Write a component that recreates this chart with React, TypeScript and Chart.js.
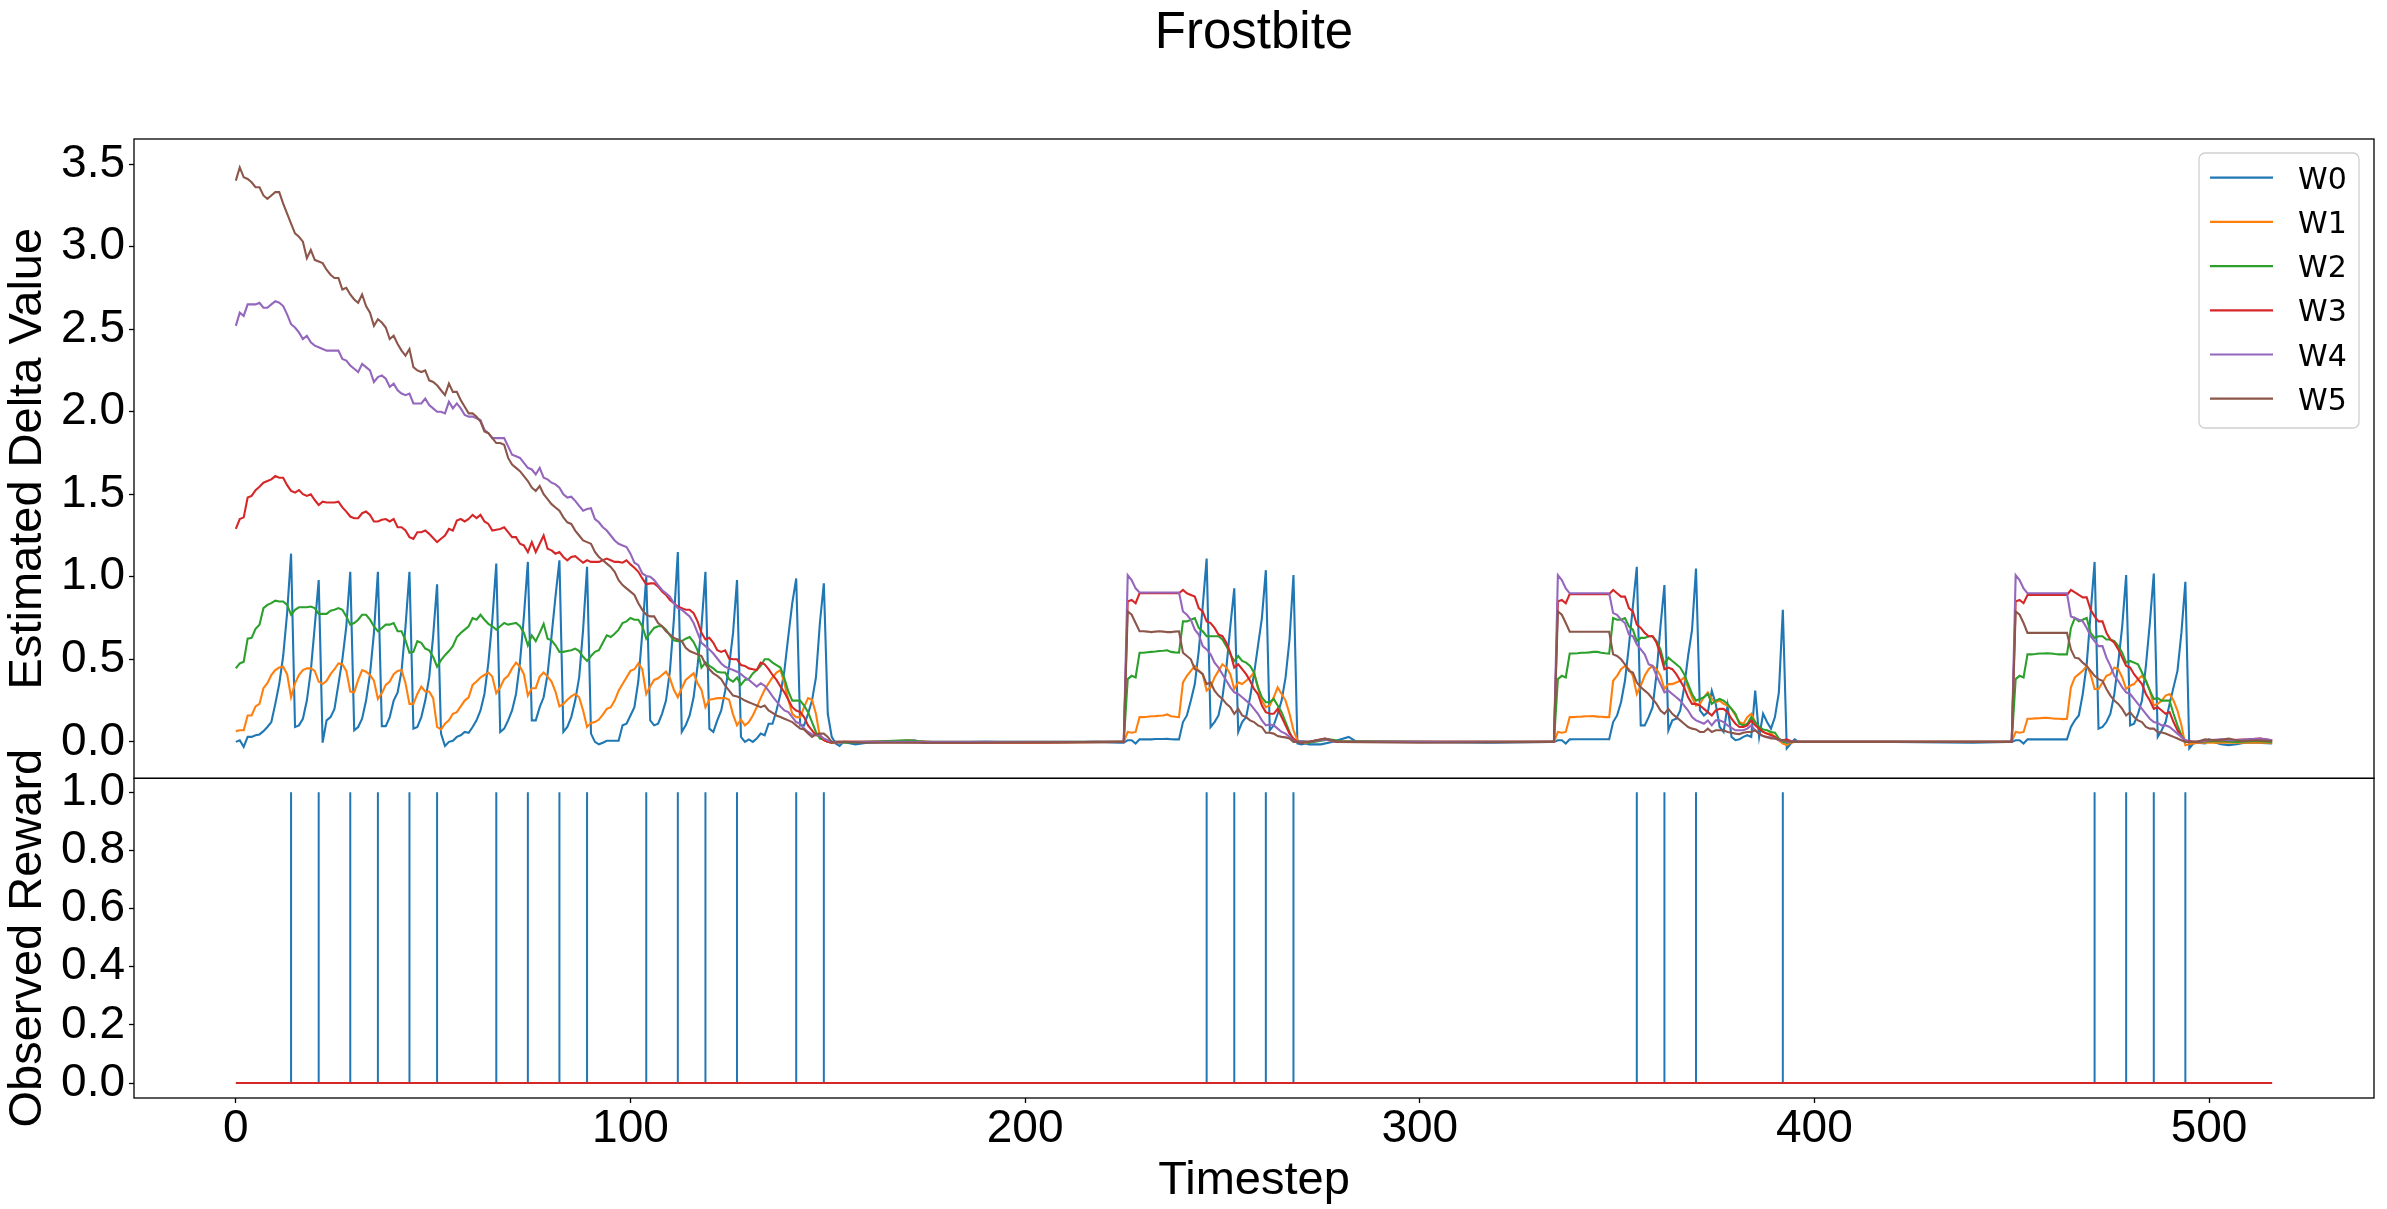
import React, { useEffect, useRef } from 'react';
import { Chart, registerables } from 'chart.js';

Chart.register(...registerables);

// ---- labels ----
const TITLE = 'Frostbite';
const X_LABEL = 'Timestep';
const TOP_Y_LABEL = 'Estimated Delta Value';
const BOTTOM_Y_LABEL = 'Observed Reward';
const SERIES_NAMES = ['W0', 'W1', 'W2', 'W3', 'W4', 'W5'];
const SERIES_COLORS = ['#1f77b4', '#ff7f0e', '#2ca02c', '#d62728', '#9467bd', '#8c564b'];

// first timestep of each dense block of values
const EARLY_START = 0;
const PHASE_STARTS = [225, 334, 450];

// ---- W0 ----
const W0_EARLY = [
  0.0, 0.01, -0.03, 0.03, 0.03, 0.04, 0.045, 0.065, 0.09, 0.12,
  0.23, 0.35, 0.52, 0.78, 1.14, 0.09, 0.10, 0.14, 0.25, 0.43,
  0.70, 0.98, -0.005, 0.13, 0.15, 0.20, 0.35, 0.50, 0.70, 1.03,
  0.07, 0.09, 0.14, 0.25, 0.41, 0.66, 1.03, 0.095, 0.095, 0.15,
  0.25, 0.30, 0.43, 0.70, 1.03, 0.08, 0.09, 0.15, 0.25, 0.39,
  0.64, 0.955, 0.05, -0.025, 0.0, 0.007, 0.03, 0.04, 0.06, 0.055,
  0.09, 0.13, 0.19, 0.29, 0.48, 0.74, 1.08, 0.06, 0.08, 0.13,
  0.19, 0.29, 0.48, 0.76, 1.09, 0.13, 0.13, 0.21, 0.27, 0.41,
  0.64, 0.88, 1.10, 0.06, 0.09, 0.15, 0.25, 0.39, 0.68, 1.06,
  0.05, 0.0, -0.015, -0.005, 0.007, 0.007, 0.007, 0.007, 0.10, 0.11,
  0.16, 0.21, 0.37, 0.66, 1.0, 0.13, 0.10, 0.11, 0.17, 0.25,
  0.43, 0.74, 1.15, 0.06, 0.10, 0.16, 0.27, 0.46, 0.70, 1.03,
  0.08, 0.06, 0.13, 0.19, 0.31, 0.46, 0.66, 0.98, 0.03, 0.0,
  0.015, 0.0, 0.02, 0.05, 0.04, 0.11, 0.11, 0.19, 0.29, 0.43,
  0.64, 0.84, 0.99, 0.10, 0.10, 0.17, 0.25, 0.39, 0.72, 0.96,
  0.17, 0.03, -0.01, -0.025, 0.0,
];
const W0_P1 = [
  -0.005, 0.01, 0.01, -0.01, 0.015, 0.015, 0.015, 0.015, 0.017, 0.017, 0.017, 0.018, 0.016, 0.015, 0.015,
  0.12, 0.16, 0.25, 0.35, 0.55, 0.82, 1.11, 0.09, 0.12, 0.16, 0.27, 0.45, 0.70, 0.93,
  0.06, 0.12, 0.15, 0.27, 0.41, 0.58, 0.75, 1.04, 0.07, 0.10, 0.17, 0.25, 0.39, 0.62, 1.01,
  -0.01, -0.015, -0.01, -0.015,
];
const W0_P2 = [
  0.0, 0.01, 0.01, -0.01, 0.015, 0.016, 0.016, 0.016, 0.016, 0.016, 0.016, 0.016, 0.016, 0.016, 0.016,
  0.12, 0.16, 0.24, 0.37, 0.58, 0.82, 1.06, 0.10, 0.10, 0.15, 0.21, 0.41, 0.70, 0.95,
  0.07, 0.13, 0.14, 0.19, 0.33, 0.52, 0.68, 1.05, 0.19, 0.16, 0.18, 0.31, 0.23, 0.09, 0.06, 0.22,
  0.03, 0.01, 0.015, 0.03, 0.04, 0.03, 0.31, 0.03, 0.17, 0.12, 0.08, 0.15, 0.30, 0.80,
  -0.04, -0.01, 0.015, 0.0,
];
const W0_P3 = [
  0.0, 0.01, 0.01, -0.01, 0.015, 0.015, 0.015, 0.015, 0.015, 0.015, 0.015, 0.015, 0.015, 0.015, 0.015,
  0.09, 0.13, 0.16, 0.29, 0.47, 0.78, 1.09, 0.08, 0.09, 0.12, 0.17, 0.29, 0.48, 0.70, 1.01,
  0.10, 0.11, 0.17, 0.25, 0.46, 0.72, 1.02, 0.03, 0.07, 0.12, 0.23, 0.33, 0.43, 0.66, 0.97,
  -0.04, -0.01, -0.005,
];
const W0_QUIET = [
  [157, -0.015], [160, -0.005], [165, 0.0], [172, 0.01], [174, -0.005], [190, 0.0], [205, -0.005],
  [218, 0.0], [224, -0.005], [275, -0.015], [278, 0.0], [282, 0.03], [284, 0.0], [300, 0.0],
  [318, -0.005], [333, 0.0], [400, 0.0], [420, 0.0], [440, -0.005], [449, 0.0], [499, -0.01],
  [500, 0.015], [501, 0.0], [503, -0.015], [505, -0.02], [507, -0.015], [509, -0.005], [512, -0.005],
  [516, -0.01],
];

// ---- W1 ----
const W1_EARLY = [
  0.065, 0.07, 0.07, 0.16, 0.16, 0.215, 0.23, 0.325, 0.355, 0.405,
  0.435, 0.45, 0.455, 0.41, 0.27, 0.355, 0.405, 0.435, 0.445, 0.445,
  0.43, 0.365, 0.35, 0.37, 0.41, 0.44, 0.475, 0.47, 0.43, 0.305,
  0.30, 0.375, 0.435, 0.425, 0.405, 0.37, 0.26, 0.295, 0.345, 0.365,
  0.41, 0.43, 0.435, 0.355, 0.23, 0.23, 0.29, 0.335, 0.305, 0.305,
  0.265, 0.09, 0.075, 0.11, 0.13, 0.17, 0.18, 0.215, 0.25, 0.27,
  0.345, 0.365, 0.39, 0.405, 0.42, 0.395, 0.295, 0.33, 0.38, 0.40,
  0.445, 0.48, 0.455, 0.41, 0.28, 0.325, 0.325, 0.395, 0.42, 0.395,
  0.365, 0.305, 0.215, 0.23, 0.255, 0.275, 0.29, 0.27, 0.19, 0.09,
  0.115, 0.12, 0.135, 0.165, 0.20, 0.21, 0.25, 0.31, 0.35, 0.39,
  0.43, 0.44, 0.475, 0.44, 0.29, 0.335, 0.375, 0.385, 0.405, 0.425,
  0.385, 0.315, 0.27, 0.325, 0.375, 0.395, 0.415, 0.355, 0.315, 0.21,
  0.255, 0.26, 0.265, 0.265, 0.265, 0.255, 0.165, 0.10, 0.135, 0.10,
  0.12, 0.16, 0.21, 0.265, 0.315, 0.355, 0.39, 0.42, 0.435, 0.355,
  0.255, 0.17, 0.15, 0.15, 0.21, 0.265, 0.255, 0.17, 0.03, 0.01,
  0.0, -0.005, 0.0, -0.005, 0.0,
];
const W1_P1 = [
  0.0, 0.06, 0.055, 0.06, 0.15, 0.15, 0.152, 0.155, 0.156, 0.158, 0.16, 0.166, 0.155, 0.152, 0.15,
  0.36, 0.40, 0.43, 0.46, 0.43, 0.41, 0.31, 0.33, 0.39, 0.43, 0.47, 0.45, 0.41, 0.32,
  0.36, 0.35, 0.37, 0.39, 0.42, 0.33, 0.25, 0.21, 0.22, 0.27, 0.33, 0.29, 0.25, 0.17, 0.07,
  0.01, 0.0, -0.005, 0.0,
];
const W1_P2 = [
  0.0, 0.06, 0.055, 0.06, 0.15, 0.15, 0.152, 0.153, 0.155, 0.155, 0.156, 0.153, 0.152, 0.15, 0.15,
  0.37, 0.40, 0.44, 0.46, 0.44, 0.40, 0.29, 0.34, 0.40, 0.44, 0.46, 0.44, 0.40, 0.32,
  0.35, 0.35, 0.36, 0.37, 0.39, 0.33, 0.27, 0.22, 0.23, 0.27, 0.30, 0.26, 0.24, 0.25, 0.23, 0.22,
  0.20, 0.16, 0.12, 0.11, 0.15, 0.17, 0.12, 0.08, 0.06, 0.05, 0.05, 0.03, 0.01, -0.01,
  -0.02, -0.005, 0.0, 0.0,
];
const W1_P3 = [
  0.0, 0.06, 0.055, 0.06, 0.14, 0.14, 0.142, 0.143, 0.145, 0.145, 0.143, 0.14, 0.14, 0.138, 0.14,
  0.33, 0.39, 0.41, 0.43, 0.46, 0.41, 0.32, 0.32, 0.36, 0.40, 0.41, 0.45, 0.44, 0.39, 0.32,
  0.34, 0.35, 0.38, 0.40, 0.37, 0.31, 0.22, 0.23, 0.25, 0.28, 0.29, 0.25, 0.19, 0.10, -0.02,
  -0.015, -0.01, -0.005,
];
const W1_QUIET = [
  [160, 0.0], [171, 0.008], [176, 0.0], [200, -0.005], [224, 0.0], [276, 0.015], [279, 0.0],
  [300, 0.0], [333, 0.0], [400, 0.0], [449, 0.0], [502, -0.005], [508, -0.005], [516, -0.005],
];

// ---- W2 ----
const W2_EARLY = [
  0.445, 0.475, 0.485, 0.625, 0.63, 0.685, 0.71, 0.81, 0.83, 0.84,
  0.855, 0.85, 0.85, 0.83, 0.77, 0.80, 0.815, 0.815, 0.815, 0.82,
  0.81, 0.775, 0.775, 0.775, 0.795, 0.80, 0.81, 0.80, 0.76, 0.71,
  0.72, 0.74, 0.77, 0.77, 0.74, 0.70, 0.67, 0.69, 0.71, 0.71,
  0.72, 0.67, 0.67, 0.615, 0.54, 0.545, 0.61, 0.60, 0.565, 0.555,
  0.515, 0.455, 0.495, 0.525, 0.55, 0.58, 0.635, 0.66, 0.68, 0.70,
  0.75, 0.74, 0.77, 0.74, 0.715, 0.70, 0.68, 0.70, 0.72, 0.71,
  0.715, 0.72, 0.70, 0.66, 0.585, 0.645, 0.61, 0.66, 0.715, 0.625,
  0.615, 0.585, 0.545, 0.545, 0.55, 0.555, 0.565, 0.55, 0.515, 0.49,
  0.52, 0.545, 0.555, 0.60, 0.645, 0.635, 0.655, 0.68, 0.72, 0.73,
  0.75, 0.74, 0.74, 0.70, 0.625, 0.66, 0.69, 0.70, 0.70, 0.68,
  0.645, 0.615, 0.61, 0.61, 0.625, 0.635, 0.605, 0.555, 0.45, 0.48,
  0.46, 0.445, 0.425, 0.42, 0.42, 0.38, 0.365, 0.39, 0.345, 0.375,
  0.38, 0.415, 0.435, 0.46, 0.50, 0.50, 0.48, 0.465, 0.45, 0.385,
  0.305, 0.25, 0.25, 0.25, 0.22, 0.18, 0.12, 0.06, 0.02, 0.015,
  0.0, -0.005, 0.0, 0.0, -0.005,
];
const W2_P1 = [
  0.0, 0.38, 0.40, 0.39, 0.54, 0.54, 0.543, 0.545, 0.547, 0.55, 0.552, 0.555, 0.545, 0.542, 0.54,
  0.73, 0.73, 0.74, 0.75, 0.69, 0.67, 0.64, 0.64, 0.64, 0.64, 0.62, 0.58, 0.53, 0.49,
  0.52, 0.49, 0.48, 0.46, 0.42, 0.33, 0.27, 0.24, 0.24, 0.26, 0.22, 0.18, 0.12, 0.06, 0.01,
  0.0, 0.005, 0.0, -0.005,
];
const W2_P2 = [
  0.0, 0.38, 0.40, 0.39, 0.535, 0.535, 0.537, 0.54, 0.54, 0.542, 0.545, 0.545, 0.54, 0.537, 0.535,
  0.75, 0.74, 0.74, 0.75, 0.70, 0.68, 0.61, 0.63, 0.63, 0.64, 0.64, 0.61, 0.56, 0.47,
  0.51, 0.49, 0.47, 0.45, 0.41, 0.35, 0.29, 0.25, 0.26, 0.27, 0.29, 0.23, 0.25, 0.26, 0.25, 0.23,
  0.20, 0.17, 0.11, 0.10, 0.11, 0.15, 0.12, 0.09, 0.075, 0.07, 0.06, 0.055, 0.02, 0.0,
  -0.005, 0.0, 0.0, 0.0,
];
const W2_P3 = [
  0.0, 0.38, 0.40, 0.39, 0.53, 0.53, 0.532, 0.535, 0.535, 0.537, 0.535, 0.532, 0.53, 0.53, 0.53,
  0.69, 0.75, 0.73, 0.74, 0.75, 0.66, 0.63, 0.64, 0.64, 0.62, 0.62, 0.61, 0.58, 0.54, 0.48,
  0.49, 0.48, 0.47, 0.42, 0.37, 0.31, 0.26, 0.265, 0.25, 0.25, 0.25, 0.17, 0.10, 0.04, 0.0,
  0.0, 0.0, 0.0,
];
const W2_QUIET = [
  [160, 0.0], [170, 0.01], [175, 0.0], [200, 0.0], [224, 0.0], [277, 0.015], [280, 0.005],
  [300, 0.0], [333, 0.0], [400, 0.0], [449, 0.0], [502, 0.005], [507, 0.0], [512, 0.005], [516, 0.0],
];

// ---- W3 ----
const W3_EARLY = [
  1.29, 1.35, 1.36, 1.48, 1.49, 1.525, 1.545, 1.57, 1.58, 1.59,
  1.61, 1.60, 1.60, 1.555, 1.52, 1.51, 1.525, 1.50, 1.49, 1.50,
  1.465, 1.435, 1.455, 1.45, 1.45, 1.45, 1.455, 1.42, 1.395, 1.365,
  1.355, 1.355, 1.385, 1.395, 1.375, 1.335, 1.335, 1.345, 1.35, 1.335,
  1.35, 1.30, 1.30, 1.28, 1.24, 1.23, 1.27, 1.27, 1.28, 1.26,
  1.235, 1.21, 1.23, 1.25, 1.29, 1.28, 1.34, 1.35, 1.335, 1.35,
  1.375, 1.355, 1.375, 1.335, 1.32, 1.28, 1.285, 1.29, 1.30, 1.27,
  1.24, 1.24, 1.20, 1.19, 1.15, 1.21, 1.15, 1.20, 1.25, 1.17,
  1.16, 1.14, 1.15, 1.12, 1.10, 1.12, 1.125, 1.105, 1.085, 1.10,
  1.09, 1.09, 1.09, 1.10, 1.11, 1.10, 1.09, 1.09, 1.085, 1.10,
  1.075, 1.055, 1.03, 0.99, 0.955, 0.96, 0.96, 0.94, 0.91, 0.89,
  0.86, 0.84, 0.82, 0.81, 0.80, 0.80, 0.78, 0.73, 0.66, 0.62,
  0.63, 0.60, 0.555, 0.545, 0.555, 0.505, 0.50, 0.50, 0.465, 0.46,
  0.445, 0.44, 0.435, 0.48, 0.47, 0.44, 0.405, 0.375, 0.335, 0.30,
  0.255, 0.21, 0.19, 0.18, 0.15, 0.10, 0.07, 0.04, 0.04, 0.01,
  0.0, -0.005, 0.0, 0.0, 0.0,
];
const W3_P1 = [
  0.0, 0.85, 0.86, 0.84, 0.90, 0.90, 0.90, 0.90, 0.90, 0.90, 0.90, 0.90, 0.90, 0.90, 0.90,
  0.92, 0.90, 0.89, 0.88, 0.81, 0.79, 0.73, 0.72, 0.69, 0.65, 0.64, 0.60, 0.54, 0.45,
  0.47, 0.44, 0.41, 0.37, 0.32, 0.29, 0.22, 0.18, 0.17, 0.17, 0.20, 0.15, 0.10, 0.05, 0.02,
  0.0, -0.005, 0.0, 0.0,
];
const W3_P2 = [
  0.0, 0.85, 0.86, 0.84, 0.895, 0.895, 0.895, 0.895, 0.895, 0.895, 0.895, 0.895, 0.895, 0.895, 0.895,
  0.92, 0.90, 0.88, 0.88, 0.81, 0.79, 0.71, 0.69, 0.66, 0.64, 0.64, 0.60, 0.53, 0.44,
  0.45, 0.44, 0.41, 0.37, 0.33, 0.27, 0.23, 0.23, 0.22, 0.20, 0.18, 0.16, 0.19, 0.20, 0.20, 0.18,
  0.14, 0.11, 0.09, 0.09, 0.10, 0.13, 0.10, 0.08, 0.06, 0.05, 0.04, 0.03, 0.01, 0.01,
  0.015, 0.005, 0.0, 0.0,
];
const W3_P3 = [
  0.0, 0.85, 0.86, 0.84, 0.89, 0.89, 0.89, 0.89, 0.89, 0.89, 0.89, 0.89, 0.89, 0.89, 0.89,
  0.92, 0.905, 0.89, 0.875, 0.875, 0.80, 0.76, 0.73, 0.73, 0.66, 0.62, 0.60, 0.56, 0.51, 0.46,
  0.45, 0.41, 0.38, 0.35, 0.29, 0.25, 0.20, 0.21, 0.19, 0.17, 0.18, 0.12, 0.07, 0.03, 0.01,
  0.005, 0.0, 0.0,
];
const W3_QUIET = [
  [160, 0.0], [185, -0.005], [224, 0.0], [276, 0.02], [279, 0.0], [300, 0.0], [333, 0.0],
  [400, 0.0], [449, 0.0], [500, 0.01], [505, 0.01], [510, 0.015], [513, 0.02], [516, 0.01],
];

// ---- W4 ----
const W4_EARLY = [
  2.52, 2.60, 2.58, 2.65, 2.65, 2.65, 2.66, 2.63, 2.63, 2.65,
  2.67, 2.66, 2.64, 2.59, 2.53, 2.51, 2.48, 2.44, 2.46, 2.42,
  2.40, 2.39, 2.38, 2.37, 2.37, 2.37, 2.37, 2.32, 2.31, 2.28,
  2.26, 2.24, 2.29, 2.27, 2.25, 2.18, 2.21, 2.22, 2.20, 2.15,
  2.17, 2.13, 2.11, 2.10, 2.11, 2.05, 2.05, 2.05, 2.08, 2.04,
  2.02, 2.00, 2.00, 1.99, 2.06, 2.02, 2.05, 2.02, 1.98, 1.97,
  1.97, 1.96, 1.95, 1.89, 1.87, 1.84, 1.84, 1.84, 1.84, 1.79,
  1.74, 1.73, 1.72, 1.69, 1.66, 1.65, 1.62, 1.66, 1.60, 1.59,
  1.57, 1.56, 1.54, 1.50, 1.48, 1.485, 1.46, 1.43, 1.40, 1.41,
  1.415, 1.35, 1.33, 1.30, 1.28, 1.25, 1.22, 1.20, 1.19, 1.18,
  1.14, 1.085, 1.07, 1.02, 1.005, 1.0, 0.98, 0.95, 0.92, 0.90,
  0.88, 0.84, 0.81, 0.80, 0.78, 0.76, 0.72, 0.66, 0.60, 0.58,
  0.56, 0.535, 0.505, 0.475, 0.455, 0.445, 0.435, 0.425, 0.41, 0.39,
  0.375, 0.355, 0.335, 0.355, 0.34, 0.31, 0.275, 0.245, 0.215, 0.19,
  0.18, 0.15, 0.12, 0.11, 0.08, 0.06, 0.045, 0.04, 0.04, 0.02,
  0.01, 0.0, 0.0, -0.005, 0.0,
];
const W4_P1 = [
  0.0, 1.01, 0.98, 0.93, 0.905, 0.905, 0.905, 0.905, 0.905, 0.905, 0.905, 0.905, 0.905, 0.905, 0.905,
  0.79, 0.77, 0.74, 0.68, 0.65, 0.58, 0.56, 0.53, 0.48, 0.45, 0.41, 0.37, 0.33, 0.30,
  0.29, 0.27, 0.25, 0.23, 0.20, 0.17, 0.13, 0.10, 0.105, 0.10, 0.08, 0.06, 0.05, 0.03, 0.005,
  0.0, 0.005, 0.0, 0.0,
];
const W4_P2 = [
  0.0, 1.01, 0.98, 0.93, 0.90, 0.90, 0.90, 0.90, 0.90, 0.90, 0.90, 0.90, 0.90, 0.90, 0.90,
  0.78, 0.77, 0.74, 0.72, 0.65, 0.64, 0.59, 0.56, 0.53, 0.47, 0.46, 0.40, 0.35, 0.30,
  0.31, 0.29, 0.27, 0.25, 0.22, 0.19, 0.15, 0.13, 0.12, 0.11, 0.13, 0.10, 0.13, 0.13, 0.12, 0.10,
  0.085, 0.07, 0.07, 0.07, 0.08, 0.10, 0.07, 0.05, 0.035, 0.027, 0.027, 0.02, 0.01, 0.01,
  0.0, 0.0, 0.0, 0.0,
];
const W4_P3 = [
  0.0, 1.01, 0.98, 0.93, 0.90, 0.90, 0.90, 0.90, 0.90, 0.90, 0.90, 0.90, 0.90, 0.90, 0.90,
  0.76, 0.75, 0.74, 0.73, 0.69, 0.64, 0.61, 0.58, 0.58, 0.51, 0.46, 0.40, 0.37, 0.33, 0.30,
  0.29, 0.26, 0.23, 0.20, 0.17, 0.14, 0.12, 0.115, 0.10, 0.10, 0.09, 0.07, 0.05, 0.03, 0.01,
  0.0, 0.0, 0.0,
];
const W4_QUIET = [
  [160, 0.0], [190, 0.0], [224, 0.0], [276, 0.015], [279, 0.0], [300, 0.0], [333, 0.0],
  [400, 0.0], [449, 0.0], [500, 0.01], [503, 0.015], [506, 0.01], [510, 0.015], [513, 0.02], [516, 0.01],
];

// ---- W5 ----
const W5_EARLY = [
  3.40, 3.48, 3.42, 3.41, 3.39, 3.36, 3.36, 3.31, 3.29, 3.31,
  3.33, 3.33, 3.26, 3.20, 3.14, 3.08, 3.06, 3.03, 2.93, 2.98,
  2.92, 2.91, 2.90, 2.86, 2.83, 2.81, 2.81, 2.74, 2.75, 2.71,
  2.68, 2.66, 2.71, 2.64, 2.60, 2.52, 2.56, 2.54, 2.51, 2.44,
  2.46, 2.41, 2.37, 2.34, 2.38, 2.27, 2.25, 2.24, 2.25, 2.19,
  2.18, 2.16, 2.13, 2.10, 2.17, 2.12, 2.12, 2.07, 2.03, 1.99,
  1.99, 1.97, 1.94, 1.88, 1.87, 1.84, 1.81, 1.81, 1.80, 1.72,
  1.68, 1.66, 1.64, 1.61, 1.58, 1.54, 1.52, 1.55, 1.50, 1.47,
  1.44, 1.42, 1.40, 1.36, 1.33, 1.32, 1.28, 1.25, 1.22, 1.21,
  1.20, 1.15, 1.12, 1.10, 1.08, 1.06, 1.03, 0.98, 0.95, 0.93,
  0.91, 0.89, 0.84, 0.80, 0.77, 0.76, 0.76, 0.72, 0.70, 0.67,
  0.65, 0.63, 0.62, 0.61, 0.57, 0.55, 0.54, 0.53, 0.52, 0.47,
  0.44, 0.415, 0.40, 0.38, 0.34, 0.31, 0.28, 0.275, 0.265, 0.25,
  0.24, 0.23, 0.22, 0.21, 0.22, 0.19, 0.175, 0.16, 0.15, 0.14,
  0.13, 0.12, 0.10, 0.08, 0.075, 0.05, 0.03, 0.045, 0.05, 0.05,
  0.03, 0.0, -0.005, 0.0, 0.0,
];
const W5_P1 = [
  0.0, 0.79, 0.77, 0.72, 0.67, 0.67, 0.668, 0.665, 0.668, 0.67, 0.668, 0.665, 0.665, 0.668, 0.67,
  0.54, 0.52, 0.50, 0.44, 0.43, 0.41, 0.35, 0.36, 0.31, 0.28, 0.26, 0.23, 0.21, 0.17,
  0.20, 0.16, 0.15, 0.13, 0.12, 0.10, 0.09, 0.055, 0.055, 0.05, 0.035, 0.03, 0.027, 0.02, 0.0,
  0.0, -0.005, 0.0, 0.0,
];
const W5_P2 = [
  0.0, 0.79, 0.77, 0.72, 0.667, 0.667, 0.667, 0.667, 0.667, 0.667, 0.667, 0.667, 0.667, 0.667, 0.667,
  0.53, 0.52, 0.50, 0.47, 0.43, 0.42, 0.36, 0.33, 0.31, 0.29, 0.26, 0.23, 0.19, 0.17,
  0.20, 0.17, 0.15, 0.13, 0.11, 0.09, 0.08, 0.075, 0.06, 0.06, 0.08, 0.06, 0.07, 0.07, 0.07, 0.06,
  0.055, 0.05, 0.047, 0.055, 0.06, 0.06, 0.07, 0.05, 0.035, 0.03, 0.02, 0.02, 0.015, 0.01,
  0.005, 0.0, 0.0, 0.0,
];
const W5_P3 = [
  0.0, 0.79, 0.77, 0.72, 0.66, 0.66, 0.66, 0.66, 0.66, 0.66, 0.66, 0.66, 0.66, 0.66, 0.66,
  0.56, 0.51, 0.505, 0.48, 0.46, 0.43, 0.40, 0.38, 0.37, 0.32, 0.28, 0.25, 0.23, 0.20, 0.16,
  0.18, 0.15, 0.13, 0.12, 0.09, 0.08, 0.08, 0.06, 0.057, 0.05, 0.04, 0.03, 0.02, 0.01, 0.0,
  0.0, 0.0, 0.0,
];
const W5_QUIET = [
  [160, -0.005], [185, -0.005], [224, 0.0], [276, 0.02], [279, 0.0], [300, -0.005], [333, 0.0],
  [400, 0.0], [449, 0.0], [499, 0.015], [502, 0.01], [505, 0.02], [508, 0.005], [512, 0.01], [516, 0.005],
];

// ---- observed reward (bottom panel) ----
const REWARD_STEPS = [
  14, 21, 29, 36, 44, 51, 66, 74, 82, 89, 104, 112, 119, 127, 142, 149,
  246, 253, 261, 268, 355, 362, 370, 392, 471, 479, 486, 494,
];
const REWARD_VALUES = [
  1, 1, 1, 1, 1, 1, 1, 1, 1, 1, 1, 1, 1, 1, 1, 1,
  1, 1, 1, 1, 1, 1, 1, 1, 1, 1, 1, 1,
];
const BASELINE_STEPS = [0, 516];
const BASELINE_VALUES = [0, 0];

const SERIES_DATA = [
  { early: W0_EARLY, phases: [W0_P1, W0_P2, W0_P3], quiet: W0_QUIET },
  { early: W1_EARLY, phases: [W1_P1, W1_P2, W1_P3], quiet: W1_QUIET },
  { early: W2_EARLY, phases: [W2_P1, W2_P2, W2_P3], quiet: W2_QUIET },
  { early: W3_EARLY, phases: [W3_P1, W3_P2, W3_P3], quiet: W3_QUIET },
  { early: W4_EARLY, phases: [W4_P1, W4_P2, W4_P3], quiet: W4_QUIET },
  { early: W5_EARLY, phases: [W5_P1, W5_P2, W5_P3], quiet: W5_QUIET },
];

const SANS = '"Liberation Sans", Arial, sans-serif';
const LEGEND_FONT = '"DejaVu Sans", sans-serif';

function buildPoints(early: number[], phases: number[][], quiet: number[][]) {
  const pts: { x: number; y: number }[] = [];
  early.forEach((v, i) => pts.push({ x: EARLY_START + i, y: v }));
  phases.forEach((arr, p) => arr.forEach((v, i) => pts.push({ x: PHASE_STARTS[p] + i, y: v })));
  quiet.forEach(([x, y]) => pts.push({ x, y }));
  return pts.sort((a, b) => a.x - b.x);
}

// frame boxes, legend and suptitle drawn on top of the datasets
const decorPlugin = {
  id: 'decor',
  afterDatasetsDraw(chart: any) {
    const { ctx, chartArea, scales } = chart;
    ctx.save();
    ctx.strokeStyle = '#000';
    ctx.lineWidth = 1.3;
    ['yV', 'yR'].forEach((id) => {
      const s = scales[id];
      ctx.strokeRect(chartArea.left, s.top, chartArea.right - chartArea.left, s.bottom - s.top);
    });

    // legend
    const bx = 2199, by = 153, bw = 160, bh = 275;
    ctx.beginPath();
    ctx.roundRect(bx, by, bw, bh, 6);
    ctx.fillStyle = 'rgba(255,255,255,0.8)';
    ctx.fill();
    ctx.strokeStyle = '#d0d0d0';
    ctx.lineWidth = 1.3;
    ctx.stroke();
    ctx.font = `30px ${LEGEND_FONT}`;
    ctx.textAlign = 'left';
    ctx.textBaseline = 'alphabetic';
    SERIES_NAMES.forEach((name, i) => {
      const y = 177.7 + i * 44.2;
      ctx.strokeStyle = SERIES_COLORS[i];
      ctx.lineWidth = 2.2;
      ctx.beginPath();
      ctx.moveTo(2210, y);
      ctx.lineTo(2273, y);
      ctx.stroke();
      ctx.fillStyle = '#000';
      ctx.fillText(name, 2298, y + 11);
    });

    // suptitle
    ctx.font = `51px ${SANS}`;
    ctx.textAlign = 'center';
    ctx.fillStyle = '#000';
    ctx.fillText(TITLE, 1254, 48);
    ctx.restore();
  },
};

export default function App() {
  const canvasRef = useRef<HTMLCanvasElement | null>(null);
  const chartRef = useRef<Chart | null>(null);

  useEffect(() => {
    if (!canvasRef.current) return;
    if (chartRef.current) chartRef.current.destroy();
    const ctx = canvasRef.current.getContext('2d');
    if (!ctx) return;

    const valueSets = SERIES_DATA.map((s, i) => ({
      label: SERIES_NAMES[i],
      data: buildPoints(s.early, s.phases, s.quiet),
      borderColor: SERIES_COLORS[i],
      backgroundColor: SERIES_COLORS[i],
      borderWidth: 2.1,
      pointRadius: 0,
      tension: 0,
      xAxisID: 'x',
      yAxisID: 'yV',
      order: 5 - i,
    }));

    const rewardPoints: { x: number; y: number | null }[] = [];
    REWARD_STEPS.forEach((t, i) => {
      rewardPoints.push({ x: t, y: 0 });
      rewardPoints.push({ x: t, y: REWARD_VALUES[i] });
      rewardPoints.push({ x: t, y: null });
    });

    const tickFont = { family: SANS, size: 46, lineHeight: 1.1 };
    const titleFont = { family: SANS, size: 47, lineHeight: 1.2 };
    const tickGrid = {
      display: true,
      drawOnChartArea: false,
      drawTicks: true,
      tickLength: 5,
      tickColor: '#000',
      tickWidth: 1.3,
    };

    chartRef.current = new Chart(ctx, {
      type: 'line',
      data: {
        datasets: [
          ...valueSets,
          {
            label: 'reward',
            data: rewardPoints,
            borderColor: '#1f77b4',
            borderWidth: 2,
            pointRadius: 0,
            spanGaps: false,
            xAxisID: 'x',
            yAxisID: 'yR',
            order: 11,
          },
          {
            label: 'baseline',
            data: BASELINE_STEPS.map((t, i) => ({ x: t, y: BASELINE_VALUES[i] })),
            borderColor: '#d62728',
            borderWidth: 2.1,
            pointRadius: 0,
            xAxisID: 'x',
            yAxisID: 'yR',
            order: 10,
          },
        ] as any,
      },
      options: {
        animation: false,
        responsive: false,
        devicePixelRatio: 1,
        events: [],
        layout: { padding: { top: 139, right: 13, left: 0, bottom: 0 } },
        plugins: { legend: { display: false }, tooltip: { enabled: false }, title: { display: false } },
        scales: {
          x: {
            type: 'linear',
            position: 'bottom',
            min: -25.8,
            max: 541.8,
            border: { display: false },
            grid: tickGrid,
            ticks: {
              stepSize: 100,
              includeBounds: false,
              autoSkip: false,
              maxRotation: 0,
              padding: 1,
              color: '#000',
              font: tickFont,
              callback: (v: any) => String(v),
            },
            title: { display: true, text: X_LABEL, color: '#000', font: titleFont, padding: 0 },
            afterFit: (s: any) => { s.height = 111; },
          },
          yR: {
            type: 'linear',
            position: 'left',
            stack: 'panels',
            stackWeight: 1,
            min: -0.0515,
            max: 1.048,
            border: { display: false },
            grid: tickGrid,
            ticks: {
              stepSize: 0.2,
              includeBounds: false,
              autoSkip: false,
              padding: 4,
              color: '#000',
              font: tickFont,
              callback: (v: any) => Number(v).toFixed(1),
            },
            title: { display: true, text: BOTTOM_Y_LABEL, color: '#000', font: titleFont, padding: 0 },
            afterFit: (s: any) => { s.width = 134; },
          },
          yV: {
            type: 'linear',
            position: 'left',
            stack: 'panels',
            stackWeight: 2,
            min: -0.221,
            max: 3.652,
            border: { display: false },
            grid: tickGrid,
            ticks: {
              stepSize: 0.5,
              includeBounds: false,
              autoSkip: false,
              padding: 4,
              color: '#000',
              font: tickFont,
              callback: (v: any) => Number(v).toFixed(1),
            },
            title: { display: true, text: TOP_Y_LABEL, color: '#000', font: titleFont, padding: 0 },
            afterFit: (s: any) => { s.width = 134; },
          },
        },
      } as any,
      plugins: [decorPlugin],
    });

    return () => {
      if (chartRef.current) {
        chartRef.current.destroy();
        chartRef.current = null;
      }
    };
  }, []);

  return (
    <div style={{ position: 'fixed', left: 0, top: 0, width: 2387, height: 1209, background: '#fff' }}>
      <canvas ref={canvasRef} width={2387} height={1209} style={{ display: 'block' }} />
    </div>
  );
}
